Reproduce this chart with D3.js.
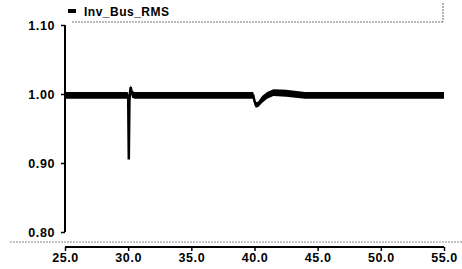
<!DOCTYPE html>
<html>
<head>
<meta charset="utf-8">
<script src="https://cdn.jsdelivr.net/npm/d3@7"></script>
<style>
  body { margin: 0; background: #fff; }
  svg text { font-family: "Liberation Sans", Arial, sans-serif; font-weight: bold; fill: #000; }
</style>
</head>
<body>
<script>
// series name
var seriesName = 'Inv_Bus_RMS';
// time (s)
var rmsTime = [25.0, 29.9, 30.0, 30.05, 30.1, 30.15, 30.2, 30.3, 30.5, 35.0, 39.9, 40.0, 40.1, 40.3, 40.6, 41.0, 41.5, 42.5, 44.0, 50.0, 55.0];
// bus voltage rms (pu)
var rmsValue = [0.998, 0.998, 0.998, 0.905, 0.990, 1.003, 1.010, 1.000, 0.998, 0.998, 0.998, 0.990, 0.984, 0.985, 0.992, 0.998, 1.002, 1.001, 0.998, 0.998, 0.998];
// half width of the ripple band around the trace
var rmsRipple = [0.005, 0.005, 0.004, 0.000, 0.000, 0.002, 0.003, 0.005, 0.005, 0.005, 0.005, 0.004, 0.004, 0.004, 0.005, 0.005, 0.005, 0.005, 0.005, 0.005, 0.005];
// axis ticks
var xTicks = [25, 30, 35, 40, 45, 50, 55];
var yTicks = [0.80, 0.90, 1.00, 1.10];

var svgWidth = 462;
var svgHeight = 269;
var svg = d3.select('body')
  .append('svg')
  .attr('width', svgWidth)
  .attr('height', svgHeight);

var data = rmsTime.map((t, i) => ({ t: t, v: rmsValue[i], r: rmsRipple[i] }));

var x = d3.scaleLinear().domain([25, 55]).range([65, 444]);
var y = d3.scaleLinear().domain([0.80, 1.10]).range([232, 25]);

// dotted frame lines
svg.append('line')
  .attr('x1', 72).attr('x2', 443).attr('y1', 22).attr('y2', 22)
  .attr('stroke', '#777').attr('stroke-width', 1).attr('stroke-dasharray', '2,1');
svg.append('line')
  .attr('x1', 443).attr('x2', 443).attr('y1', 3).attr('y2', 22)
  .attr('stroke', '#666').attr('stroke-width', 1).attr('stroke-dasharray', '2,1');
svg.append('line')
  .attr('x1', 10).attr('x2', 462).attr('y1', 242).attr('y2', 242)
  .attr('stroke', '#888').attr('stroke-width', 1).attr('stroke-dasharray', '2,1');

// y axis
var yAxis = svg.append('g')
  .attr('transform', 'translate(65,0)')
  .call(d3.axisLeft(y).tickValues(yTicks).tickFormat(d3.format('.2f')).tickSize(4).tickPadding(6));
yAxis.select('.domain').attr('stroke', '#000').attr('stroke-width', 2)
  .attr('d', `M0,${y(1.10)}V${y(0.80)}`);
yAxis.selectAll('.tick line').attr('stroke', '#000').attr('stroke-width', 1.5);
yAxis.selectAll('.tick text').style('font-size', '12.5px').style('letter-spacing', '0.6px');

// x axis
var xAxis = svg.append('g')
  .attr('transform', 'translate(0,247)')
  .call(d3.axisBottom(x).tickValues(xTicks).tickFormat(d3.format('.1f')).tickSize(4).tickPadding(2));
xAxis.select('.domain').attr('stroke', '#000').attr('stroke-width', 2)
  .attr('d', `M${x(25)},0H${x(55)}`);
xAxis.selectAll('.tick line').attr('stroke', '#000').attr('stroke-width', 1.5);
xAxis.selectAll('.tick text').style('font-size', '12.5px').style('letter-spacing', '0.6px');

// ripple band
var band = d3.area()
  .x(d => x(d.t))
  .y0(d => y(d.v - d.r))
  .y1(d => y(d.v + d.r));
svg.append('path')
  .datum(data)
  .attr('d', band)
  .attr('fill', '#000');

// trace
var line = d3.line()
  .x(d => x(d.t))
  .y(d => y(d.v));
svg.append('path')
  .datum(data)
  .attr('d', line)
  .attr('fill', 'none')
  .attr('stroke', '#000')
  .attr('stroke-width', 2.5);

// legend
svg.append('line')
  .attr('x1', 68).attr('x2', 76).attr('y1', 11).attr('y2', 11)
  .attr('stroke', '#000').attr('stroke-width', 4);
svg.append('text')
  .attr('x', 84).attr('y', 16)
  .style('font-size', '12px')
  .style('letter-spacing', '0.5px')
  .text(seriesName);
</script>
</body>
</html>
